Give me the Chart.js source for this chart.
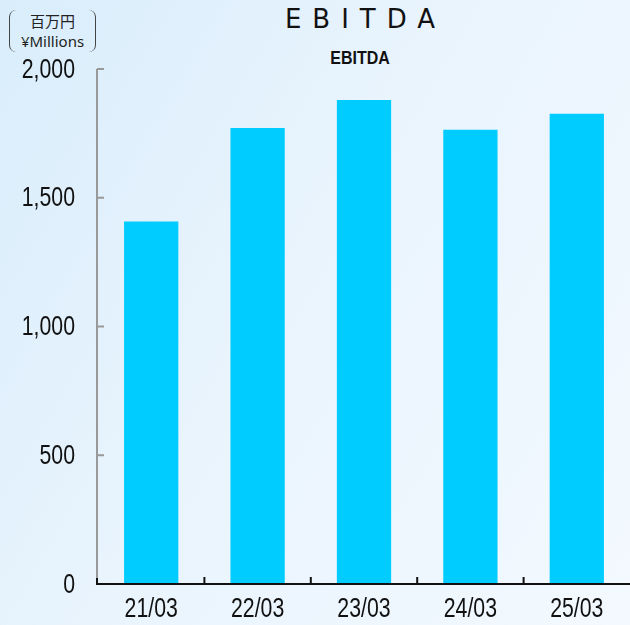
<!DOCTYPE html>
<html>
<head>
<meta charset="utf-8">
<script src="https://cdn.jsdelivr.net/npm/chart.js@4"></script>
<style>
  html, body { margin: 0; padding: 0; }
  body {
    width: 630px; height: 625px; position: relative; overflow: hidden;
    background: linear-gradient(120deg, #d9edfb 0%, #e9f4fd 45%, #f3f9ff 100%);
    font-family: "Noto Sans CJK JP", "Noto Sans", sans-serif;
  }
  #chart { position: absolute; left: 0; top: 0; }
  .title {
    position: absolute; left: 160px; width: 400px; text-align: center;
    color: #111;
  }
  #t1 { top: 4px; font-size: 26px; letter-spacing: 11px; text-indent: 11px; font-family: "DejaVu Sans", sans-serif; }
  #t2 { top: 47px; font-size: 19px; font-weight: bold; font-family: "Liberation Sans", sans-serif; transform: scaleX(0.84); }
  #unit {
    position: absolute; left: 9px; top: 10px; width: 85px; height: 42px;
    border-left: 1.5px solid #444; border-right: 1.5px solid #444;
    border-radius: 7px; text-align: center; color: #222;
  }
  #unit .a { font-size: 15px; line-height: 20px; margin-top: 1px; }
  #unit .b { font-size: 15px; line-height: 21px; font-family: "Noto Sans", sans-serif; }
</style>
</head>
<body>
<div id="unit"><div class="a">百万円</div><div class="b">¥Millions</div></div>
<div class="title" id="t1">EBITDA</div>
<div class="title" id="t2">EBITDA</div>
<canvas id="chart" width="630" height="625"></canvas>
<script>
const categories = ['21/03', '22/03', '23/03', '24/03', '25/03'];
const ebitda = [1408, 1771, 1880, 1764, 1826];
const yTicks = [0, 500, 1000, 1500, 2000];

const labelFont = '28px "Liberation Sans", Arial, sans-serif';
const squeeze = 0.76;

function narrowText(ctx, text, x, y, align) {
    ctx.save();
    ctx.translate(x, y);
    ctx.scale(squeeze, 1);
    ctx.textAlign = align;
    ctx.fillText(text, 0, 0);
    ctx.restore();
}

// axis lines, inward ticks and narrow tick labels
const axisLines = {
    id: 'axisLines',
    afterDatasetsDraw(chart) {
        const ctx = chart.ctx,
            x = chart.scales.x,
            y = chart.scales.y,
            area = chart.chartArea,
            base = y.getPixelForValue(0);
        ctx.save();
        ctx.strokeStyle = '#999';
        ctx.lineWidth = 2;
        ctx.beginPath();
        ctx.moveTo(area.left - 1, y.getPixelForValue(2000));
        ctx.lineTo(area.left - 1, base);
        yTicks.forEach(function(v) {
            if (v > 0) {
                ctx.moveTo(area.left - 1, y.getPixelForValue(v));
                ctx.lineTo(area.left + 6, y.getPixelForValue(v));
            }
        });
        ctx.stroke();
        ctx.strokeStyle = '#111';
        ctx.beginPath();
        ctx.moveTo(area.left - 2, base);
        ctx.lineTo(area.right, base);
        ctx.moveTo(area.left - 1, base);
        ctx.lineTo(area.left - 1, base - 6);
        for (let i = 1; i < categories.length; i++) {
            let px = (x.getPixelForValue(i - 1) + x.getPixelForValue(i)) / 2;
            ctx.moveTo(px, base);
            ctx.lineTo(px, base - 7);
        }
        ctx.stroke();

        ctx.fillStyle = '#111';
        ctx.font = labelFont;
        ctx.textBaseline = 'middle';
        yTicks.forEach(function(v) {
            narrowText(ctx, v.toLocaleString('en-US'), 75, y.getPixelForValue(v) + 1, 'right');
        });
        categories.forEach(function(c, i) {
            narrowText(ctx, c, x.getPixelForValue(i), 609, 'center');
        });
        ctx.restore();
    }
};

new Chart(document.getElementById('chart'), {
    type: 'bar',
    data: {
        labels: categories,
        datasets: [{
            label: 'EBITDA',
            data: ebitda,
            backgroundColor: '#00ccff',
            barPercentage: 0.51,
            categoryPercentage: 1
        }]
    },
    options: {
        responsive: false,
        animation: false,
        layout: { padding: { top: 69, right: 0, left: 0, bottom: 0 } },
        plugins: { legend: { display: false }, tooltip: { enabled: false } },
        scales: {
            x: {
                grid: { display: false },
                border: { display: false },
                ticks: { display: false },
                afterFit: function(s) { s.height = 41; }
            },
            y: {
                min: 0,
                max: 2000,
                afterBuildTicks: function(s) { s.ticks = yTicks.map(v => ({ value: v })); },
                grid: { display: false },
                border: { display: false },
                ticks: { display: false },
                afterFit: function(s) { s.width = 98; }
            }
        }
    },
    plugins: [axisLines]
});
</script>
</body>
</html>
